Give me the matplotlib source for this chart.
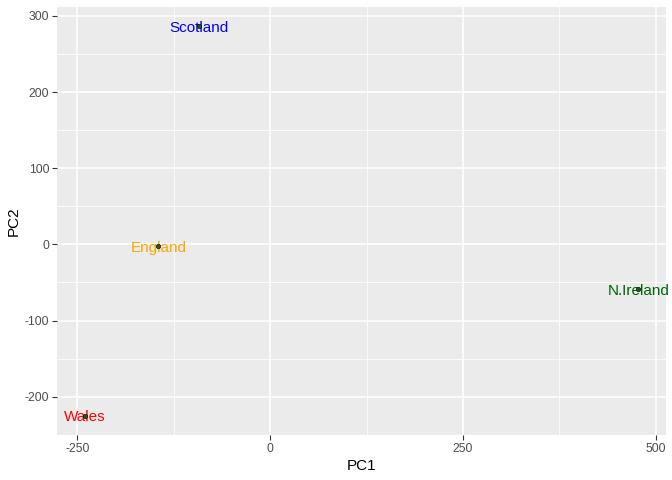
import matplotlib.pyplot as plt
import numpy as np

countries = ["England", "Wales", "Scotland", "N.Ireland"]
pc1 = [-144.99, -240.53, -91.87, 477.39]
pc2 = [-2.53, -224.65, 286.08, -58.90]
label_colors = ["orange", "red", "blue", "darkgreen"]

x_ticks = [-250, 0, 250, 500]
y_ticks = [-200, -100, 0, 100, 200, 300]

plt.rcParams["font.family"] = ["Liberation Sans", "DejaVu Sans"]
plt.rcParams["axes.unicode_minus"] = False

fig = plt.figure(figsize=(6.72, 4.8), dpi=100)
ax = fig.add_axes([57 / 672, 1 - 435 / 480, (666 - 57) / 672, (435 - 7) / 480])
ax.set_facecolor("#EBEBEB")

# ggplot-style 5% expansion
xr = max(pc1) - min(pc1)
yr = max(pc2) - min(pc2)
ax.set_xlim(min(pc1) - 0.05 * xr, max(pc1) + 0.05 * xr)
ax.set_ylim(min(pc2) - 0.05 * yr, max(pc2) + 0.05 * yr)

ax.set_xticks(x_ticks)
ax.set_yticks(y_ticks)
ax.set_xticks([-125, 125, 375], minor=True)
ax.set_yticks([-150, -50, 50, 150, 250], minor=True)
ax.grid(which="major", color="white", linewidth=1.1)
ax.grid(which="minor", color="white", linewidth=0.55)
ax.set_axisbelow(True)
for s in ax.spines.values():
    s.set_visible(False)
ax.tick_params(which="major", length=3.5, width=0.8, color="#333333",
               labelcolor="#4D4D4D", labelsize=8.8, pad=2)
ax.tick_params(which="minor", length=0)

for name, x, y, c in zip(countries, pc1, pc2, label_colors):
    ax.text(x, y, name, color=c, fontsize=11, ha="center",
            va="center_baseline", zorder=3)
ax.scatter(pc1, pc2, s=10, color="#1a5c1a", edgecolors="black", linewidths=0.4, zorder=4)

ax.set_xlabel("PC1", fontsize=11, labelpad=3)
ax.set_ylabel("PC2", fontsize=11, labelpad=3)

fig.savefig("out.png", dpi=100)
